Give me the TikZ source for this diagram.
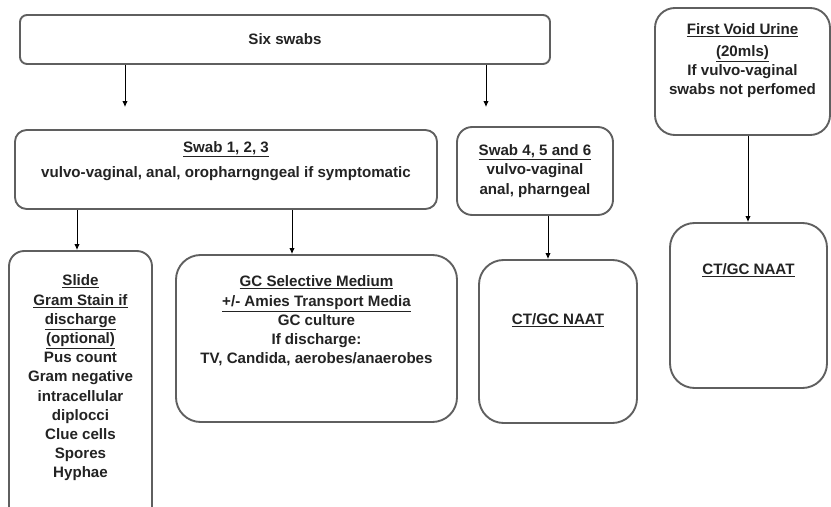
\documentclass[tikz,border=0pt]{standalone}
\usepackage{fontspec}
\setmainfont{Liberation Sans}
\usetikzlibrary{arrows.meta}

\definecolor{boxgray}{RGB}{95,95,95}
\definecolor{txtgray}{RGB}{35,35,35}

\begin{document}
\begin{tikzpicture}[x=0.03cm, y=-0.03cm,
    every node/.style={align=center, text=txtgray,
      font=\fontsize{12.9}{16.4}\selectfont\bfseries},
    swabbox/.style={draw=boxgray, line width=1.6pt, rounded corners=#1,
      fill=white, inner sep=0pt},
    swabbox/.default=16pt,
    lift/.style={text depth=#1},
    arr/.style={-{Latex[length=5pt,width=4.5pt]}, line width=0.8pt, black}]
  \useasboundingbox (0,0) rectangle (831,507);

  % top row
  \node[swabbox=6pt, minimum width=15.9cm, minimum height=1.47cm] (six)
    at (285,39.5) {Six swabs};
  \node[swabbox=17pt, minimum width=5.25cm, minimum height=3.81cm, lift=21pt] (urine)
    at (742.5,71.5) {\underline{First Void Urine}\\[2pt]\underline{(20mls)}\\If vulvo-vaginal\\swabs not perfomed};

  % second row
  \node[swabbox=10pt, minimum width=12.66cm, minimum height=2.37cm, lift=17pt] (swab123)
    at (226,169.5) {\underline{Swab 1, 2, 3}\\[5pt]vulvo-vaginal, anal, oropharngngeal if symptomatic};
  \node[swabbox=13pt, minimum width=4.68cm, minimum height=2.64cm] (swab456)
    at (535,171) {\underline{Swab 4, 5 and 6}\\vulvo-vaginal\\anal, pharngeal};

  % bottom row
  \node[swabbox=13pt, minimum width=4.29cm, minimum height=8.37cm, lift=24pt] (slide)
    at (80.5,390.5) {\underline{Slide}\\\underline{Gram Stain if}\\\underline{discharge}\\\underline{(optional)}\\Pus count\\Gram negative\\intracellular\\diplocci\\Clue cells\\Spores\\Hyphae};
  \node[swabbox=21pt, minimum width=8.43cm, minimum height=5.01cm, lift=32pt] (gc)
    at (316.5,338.5) {\underline{GC Selective Medium}\\\underline{+/- Amies Transport Media}\\GC culture\\If discharge:\\TV, Candida, aerobes/anaerobes};
  \node[swabbox=21pt, minimum width=4.74cm, minimum height=4.89cm, lift=39pt] (naat1)
    at (558,341.5) {\underline{CT/GC NAAT}};
  \node[swabbox=21pt, minimum width=4.71cm, minimum height=4.95cm, lift=63pt] (naat2)
    at (748.5,305.5) {\underline{CT/GC NAAT}};

  % arrow columns
  \coordinate (c1) at (125,0);
  \coordinate (c2) at (486,0);
  \coordinate (c3) at (77,0);
  \coordinate (c4) at (292,0);
  \coordinate (c5) at (548,0);
  \coordinate (c6) at (748,0);

  \draw[arr, shorten >=0.66cm] (c1 |- six.south) -- (c1 |- swab123.north);
  \draw[arr, shorten >=0.57cm] (c2 |- six.south) -- (c2 |- swab456.north);
  \draw[arr] (c3 |- swab123.south) -- (c3 |- slide.north);
  \draw[arr] (c4 |- swab123.south) -- (c4 |- gc.north);
  \draw[arr] (c5 |- swab456.south) -- (c5 |- naat1.north);
  \draw[arr] (c6 |- urine.south) -- (c6 |- naat2.north);
\end{tikzpicture}
\end{document}
